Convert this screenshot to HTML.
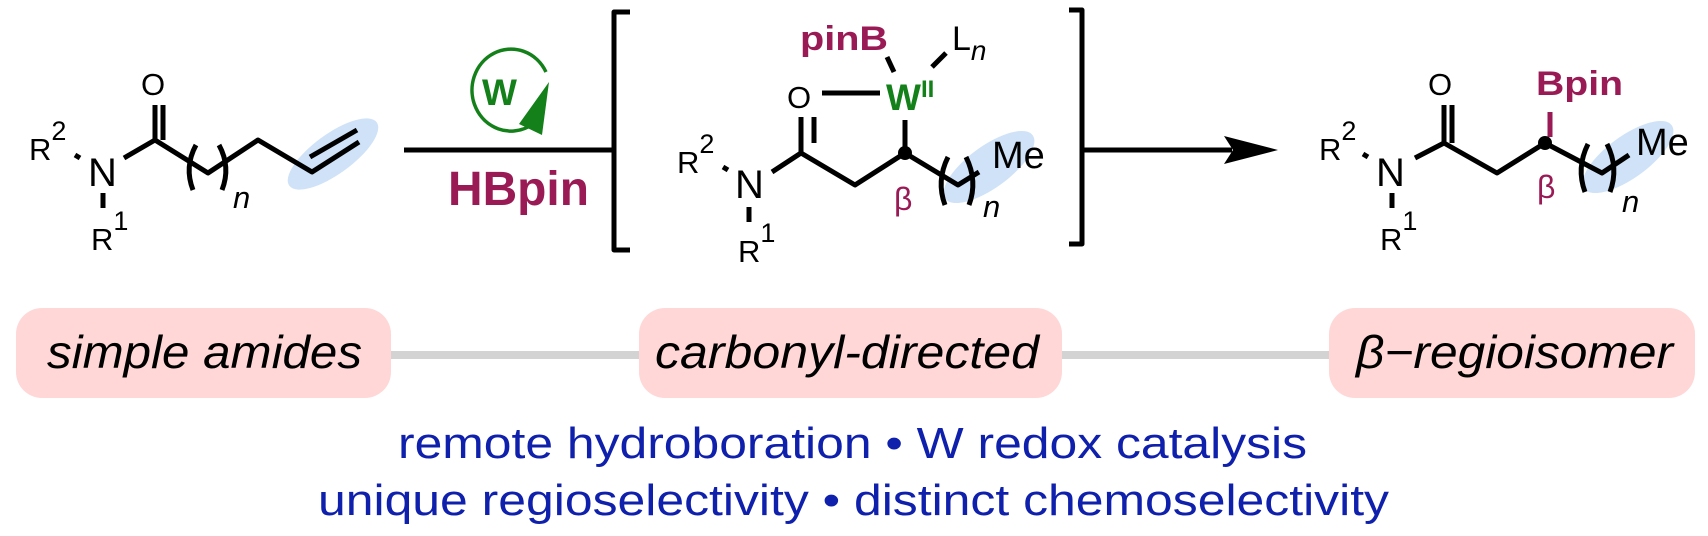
<!DOCTYPE html>
<html><head><meta charset="utf-8"><style>
html,body{margin:0;padding:0;background:#fff;}
svg{display:block;}
text{font-family:"Liberation Sans",Arial,sans-serif;}
</style></head><body>
<svg width="1708" height="536" viewBox="0 0 1708 536" xmlns="http://www.w3.org/2000/svg">
<g fill="#cfe2f8">
<ellipse cx="333" cy="154" rx="54" ry="20" transform="rotate(-36 333 154)"/>
<ellipse cx="989" cy="167" rx="54" ry="21" transform="rotate(-36 989 167)"/>
<ellipse cx="1628" cy="157" rx="54" ry="21" transform="rotate(-36 1628 157)"/>
</g>
<g stroke="#000" stroke-width="5" fill="none" stroke-linecap="butt" stroke-linejoin="round">
<!-- left molecule -->
<line x1="75" y1="155" x2="80" y2="158"/>
<line x1="103" y1="193" x2="103" y2="208"/>
<polyline points="124,158 155,140 208,173 258,140 312,172 359,142"/>
<line x1="155" y1="140" x2="155" y2="105"/>
<line x1="163" y1="140" x2="163" y2="105"/>
<line x1="310" y1="157" x2="357" y2="130"/>
<path d="M196 145 Q184 167 193 190"/>
<path d="M219 145 Q231 167 222 190"/>
<!-- arrow line -->
<line x1="404" y1="150" x2="614" y2="150"/>
<!-- brackets -->
<polyline points="630,12 614,12 614,250 630,250"/>
<polyline points="1069,10 1082,10 1082,244 1069,244"/>
<line x1="1082" y1="150" x2="1232" y2="150"/>
<!-- middle molecule -->
<line x1="723" y1="167" x2="728" y2="170"/>
<line x1="749" y1="207" x2="749" y2="222"/>
<polyline points="772,172 801,153 855,185 905,153 958,185 979,172"/>
<line x1="801" y1="153" x2="801" y2="117"/>
<line x1="814" y1="143" x2="814" y2="117"/>
<line x1="822" y1="93" x2="880" y2="93"/>
<line x1="905" y1="120" x2="905" y2="153"/>
<line x1="887" y1="57" x2="894" y2="72"/>
<line x1="932" y1="67" x2="946" y2="53"/>
<path d="M948 157 Q936 181 945 205"/>
<path d="M966 157 Q978 181 969 205"/>
<!-- right molecule -->
<line x1="1363" y1="154" x2="1368" y2="157"/>
<line x1="1392" y1="193" x2="1392" y2="208"/>
<polyline points="1415,158 1444,143 1497,173 1545,143 1602,173 1629,155"/>
<line x1="1444" y1="143" x2="1444" y2="105"/>
<line x1="1452" y1="143" x2="1452" y2="105"/>
<path d="M1588 144 Q1576 168 1585 192"/>
<path d="M1607 144 Q1619 168 1610 192"/>
</g>
<line x1="1550" y1="112" x2="1550" y2="137" stroke="#9a1a55" stroke-width="5"/>
<circle cx="905" cy="153" r="7" fill="#000"/>
<circle cx="1545" cy="143" r="7" fill="#000"/>
<polygon points="1278,150 1224,136 1233,150 1224,164" fill="#000"/>
<!-- W cycle -->
<path d="M546 72 A39 41 0 1 0 528 127" stroke="#13801a" stroke-width="3.5" fill="none"/>
<polygon points="549,82 519,124 542,135" fill="#13801a"/>
<text x="482" y="105" font-size="37" font-weight="bold" fill="#13801a">W</text>
<text x="448" y="205" font-size="48" font-weight="bold" fill="#9a1a55" textLength="141" lengthAdjust="spacingAndGlyphs">HBpin</text>
<!-- left labels -->
<g font-size="31" fill="#000">
<text x="29" y="160">R<tspan font-size="27" dy="-20">2</tspan></text>
<text x="88" y="186" font-size="40">N</text>
<text x="91" y="250">R<tspan font-size="27" dy="-20">1</tspan></text>
<text x="141" y="95" font-size="31">O</text>
<text x="233" y="208" font-style="italic">n</text>
</g>
<!-- middle labels -->
<g font-size="31" fill="#000">
<text x="677" y="173">R<tspan font-size="27" dy="-20">2</tspan></text>
<text x="735" y="198" font-size="40">N</text>
<text x="738" y="262">R<tspan font-size="27" dy="-20">1</tspan></text>
<text x="787" y="108" font-size="31">O</text>
<text x="952" y="50" font-size="34">L<tspan font-style="italic" font-size="28" dy="10">n</tspan></text>
<text x="983" y="217" font-style="italic">n</text>
<text x="992" y="168" font-size="38">Me</text>
</g>
<text x="800" y="50" font-size="34" font-weight="bold" fill="#9a1a55" textLength="88" lengthAdjust="spacingAndGlyphs">pinB</text>
<text x="886" y="110" font-size="37" font-weight="bold" fill="#13801a">W<tspan font-size="24" dy="-13">II</tspan></text>
<text x="894" y="210" font-size="32" fill="#9a1a55">β</text>
<!-- right labels -->
<g font-size="31" fill="#000">
<text x="1319" y="160">R<tspan font-size="27" dy="-20">2</tspan></text>
<text x="1376" y="186" font-size="40">N</text>
<text x="1380" y="250">R<tspan font-size="27" dy="-20">1</tspan></text>
<text x="1428" y="95" font-size="31">O</text>
<text x="1622" y="212" font-style="italic">n</text>
<text x="1636" y="155" font-size="38">Me</text>
</g>
<text x="1536" y="95" font-size="34" font-weight="bold" fill="#9a1a55" textLength="87" lengthAdjust="spacingAndGlyphs">Bpin</text>
<text x="1537" y="198" font-size="32" fill="#9a1a55">β</text>
<!-- bottom -->
<rect x="391" y="351" width="248" height="8" fill="#d3d3d3"/>
<rect x="1062" y="351" width="267" height="8" fill="#d3d3d3"/>
<rect x="16" y="308" width="375" height="90" rx="26" fill="#ffd7d7"/>
<rect x="639" y="308" width="423" height="90" rx="26" fill="#ffd7d7"/>
<rect x="1329" y="308" width="366" height="90" rx="26" fill="#ffd7d7"/>
<g font-size="46" font-style="italic" fill="#000">
<text x="47" y="368" textLength="315" lengthAdjust="spacingAndGlyphs">simple amides</text>
<text x="655" y="368" textLength="384" lengthAdjust="spacingAndGlyphs">carbonyl-directed</text>
<text x="1356" y="368" textLength="317" lengthAdjust="spacingAndGlyphs">β−regioisomer</text>
</g>
<g font-size="44" fill="#0f20ac">
<text x="398" y="458" textLength="909" lengthAdjust="spacingAndGlyphs">remote hydroboration • W redox catalysis</text>
<text x="318" y="515" textLength="1071" lengthAdjust="spacingAndGlyphs">unique regioselectivity • distinct chemoselectivity</text>
</g>
</svg>
</body></html>
